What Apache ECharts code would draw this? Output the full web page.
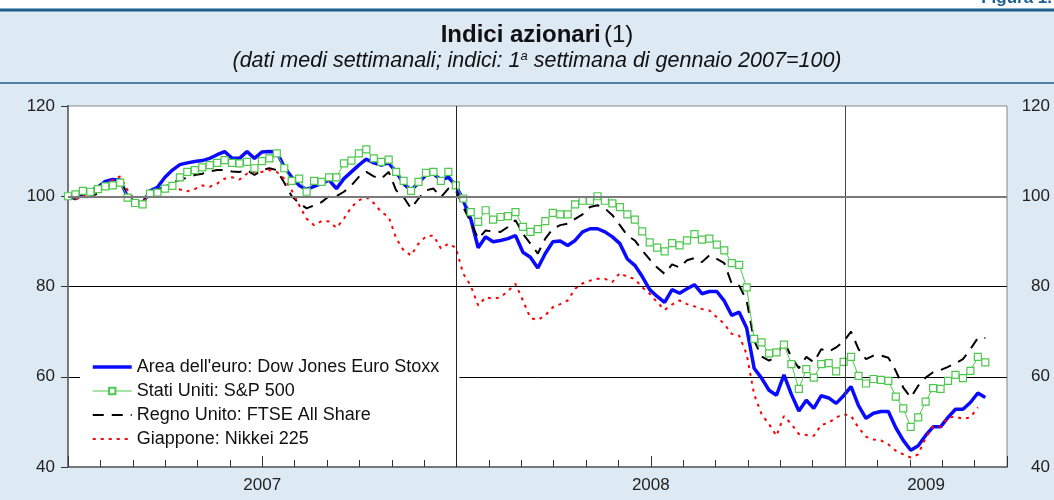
<!DOCTYPE html>
<html>
<head>
<meta charset="utf-8">
<title>Indici azionari</title>
<script src="https://cdn.jsdelivr.net/npm/echarts@6/dist/echarts.min.js"></script>
<style>
  html, body { margin: 0; padding: 0; background: #fff; }
  #chart { width: 1054px; height: 500px; }
</style>
</head>
<body>
<div id="chart"></div>
<script>
  // settimane dalla 1a di gennaio 2007; asse x in mesi
  const yearLabels = ['2007', '2008', '2009']
  const yearCenters = [6, 18, 26.5] // mesi
  const yTicks = [40, 60, 80, 100, 120]
  const seriesNames = [
    "Area dell'euro: Dow Jones Euro Stoxx",
    'Stati Uniti: S&P 500',
    'Regno Unito: FTSE All Share',
    'Giappone: Nikkei 225'
  ]

  const euro = [
    100, 99.5, 100.4, 101.2, 102, 103.3, 103.7, 103.6, 99.7, 98.7,
    98.4, 101.2, 102, 104.2, 105.8, 107, 107.4, 107.7, 107.9, 108.4,
    109.2, 109.9, 108.4, 108.4, 109.9, 108.4, 109.8, 109.9, 109.8, 106.5,
    104.2, 102.4, 101.5, 102.2, 102.8, 103.6, 101.7, 103.9, 105.4, 106.9,
    108.2, 107.4, 106.9, 107.4, 105.4, 102.8, 101.3, 103, 104.7, 105,
    103.6, 104.2, 102.4, 99.1, 95, 88.6, 91, 89.9, 90.2, 90.6,
    91.3, 87.6, 86.5, 84.1, 87.3, 89.9, 90.1, 89.1, 90.2, 92.1,
    92.8, 92.8, 92.1, 91, 89.5, 86.1, 84.7, 82.2, 79.3, 77.8,
    76.5, 79.3, 78.5, 79.5, 80.4, 78.4, 78.9, 78.9, 76.8, 73.6,
    74.3, 70.8, 61.9, 59.7, 57, 55.9, 60.4, 56.1, 52.4, 54.8,
    53, 55.8, 55.3, 54.1, 55.8, 57.8, 53.6, 50.8, 51.9, 52.3,
    52.3, 48.7, 45.9, 43.7, 44.7, 47, 48.9, 48.9, 51, 52.8,
    52.8, 54.3, 56.4, 55.4
  ]
  const usa = [
    100, 100.4, 101.2, 101, 101.6, 102.2, 102.4, 103, 99.7, 98.5,
    98.2, 100.6, 100.8, 101.7, 102.3, 104.2, 105.4, 105.8, 106.4, 106.9,
    107.4, 108, 107.4, 107.3, 107.6, 106.2, 107.8, 108.4, 109.5, 106.2,
    103.4, 103.9, 101, 103.4, 103.2, 104.2, 104.2, 107.3, 107.9, 109.5,
    110.4, 108.4, 107.6, 108.1, 105.4, 103.4, 101.2, 103.2, 105.2, 105.4,
    103.4, 105.4, 102.4, 99.5, 96.5, 94.3, 96.9, 94.8, 95.4, 95.6,
    96.5, 93.2, 92.1, 92.7, 94.5, 96.3, 96, 96, 98.2, 99,
    99, 100, 99, 98.4, 97.6, 96, 94.8, 92.2, 89.8, 88.6,
    87.8, 89.6, 89.1, 90.2, 91.6, 90.4, 90.6, 89.3, 88, 85.2,
    84.8, 79.8, 68.4, 67.6, 65.2, 65.4, 67.1, 62.8, 57.3, 61.7,
    59.8, 62.8, 63, 61.2, 63.3, 64.4, 60.2, 58.5, 59.5, 59.3,
    59.1, 55.6, 53, 48.9, 51, 54.5, 57.5, 57.3, 59.1, 60.4,
    59.7, 61.3, 64.4, 63.2
  ]
  const uk = [
    100, 99.5, 99.7, 99.9, 100.6, 102.4, 103, 103.4, 100, 98.7,
    98.4, 101, 101.5, 102.1, 103, 103.7, 104.1, 104.7, 105, 105.5,
    105.8, 105.8, 105.5, 105.4, 105.8, 104.7, 105.8, 106.2, 105.8, 103,
    100, 98.5, 97.3, 98, 98.7, 100, 100, 101, 102.4, 104.3,
    105.4, 104.4, 103.9, 105.4, 101.3, 99.8, 97.3, 99.5, 101.3, 101.7,
    99.8, 101.7, 101.3, 97.6, 94.3, 90.6, 92.4, 92.2, 92.1, 93.2,
    94.7, 91.7, 89.5, 87.3, 90.6, 92.8, 93.6, 93.9, 95, 96,
    97.6, 98, 97.3, 95.8, 93.6, 91.3, 90.2, 88, 86, 84.2,
    82.8, 84.9, 84.2, 85.8, 86.3, 85.4, 86.9, 86.1, 85.2, 80.6,
    80.2, 76.9, 68, 64.5, 63.6, 64.4, 68, 64.3, 61.9, 64.4,
    63.2, 66.1, 65.6, 66.5, 67.8, 70, 66.1, 63.9, 64.7, 64.7,
    64.2, 61.3, 57.6, 55.4, 58, 59.8, 61, 61.5, 62.2, 63,
    63.9, 66.1, 68.6, 68.6
  ]
  const japan = [
    100, 99.3, 100, 100.8, 101.9, 102.8, 103.6, 104.4, 101.3, 99.1,
    98.6, 100.6, 101.3, 101.3, 101.7, 101.5, 101.1, 101.6, 102.4, 102.1,
    102.8, 103.9, 104.2, 103.7, 105, 105.4, 105.4, 105.8, 105.4, 103.9,
    101.3, 98, 95, 93.6, 94.5, 94.4, 93, 95, 97.6, 99.1,
    99.8, 98.5, 96.5, 95.4, 90.7, 88, 86.9, 89.5, 91.1, 91.3,
    88.4, 89.5, 88.6, 82.8, 80.2, 75.8, 77.6, 77.3, 77.6, 79,
    80.6, 76.9, 73, 72.6, 73.6, 75.4, 76.1, 76.9, 79.5, 80.7,
    81.3, 81.7, 81.7, 81, 83, 82.1, 81.7, 79.8, 78.4, 76.5,
    74.8, 76, 76.9, 76.1, 75.6, 75, 74.7, 73.2, 71.7, 69.5,
    69.1, 65, 56.1, 51.7, 49.5, 46.9, 51.3, 49.5, 47.3, 47.1,
    46.9, 49.3, 49.8, 51, 51.7, 51.3, 48.7, 46.7, 46.1, 45.9,
    45, 43.6, 42.8, 42.1, 42.8, 46.5, 48.9, 48.9, 51, 51.1,
    50.7, 51, 53.2
  ]

  const FONT = '"Liberation Sans", Arial, Helvetica, sans-serif'
  const WEEK = 12 / 52.1 // mesi per osservazione settimanale

  function toPoints(arr) {
    return arr.map((v, i) => [i * WEEK, v])
  }

  const chart = echarts.init(document.getElementById('chart'), null, { renderer: 'canvas' })

  const xBase = {
    type: 'value',
    position: 'bottom',
    min: 0,
    max: 29,
    gridIndex: 0
  }

  chart.setOption({
    backgroundColor: '#dde9f3',
    animation: false,
    textStyle: { fontFamily: FONT },
    graphic: [
      { type: 'rect', silent: true, z: -1, shape: { x: 0, y: 0, width: 1054, height: 9 }, style: { fill: '#fff' } },
      { type: 'line', silent: true, shape: { x1: 0, y1: 10, x2: 1054, y2: 10 }, style: { stroke: '#1d5f8e', lineWidth: 3 } },
      { type: 'line', silent: true, shape: { x1: 0, y1: 83, x2: 1054, y2: 83 }, style: { stroke: '#4f7fa6', lineWidth: 2 } },
      {
        type: 'text', silent: true, x: 1052, y: 7,
        style: { text: 'Figura 1.', align: 'right', verticalAlign: 'bottom', fontFamily: FONT, fontWeight: 'bold', fontSize: 17, fill: '#1d5f8e' }
      },
      {
        type: 'text', silent: true, x: 537, y: 35,
        style: {
          text: '{b|Indici azionari} {n|(1)}',
          align: 'center', verticalAlign: 'middle',
          rich: {
            b: { fontFamily: FONT, fontWeight: 'bold', fontSize: 24, fill: '#111' },
            n: { fontFamily: FONT, fontSize: 24, fill: '#111' }
          }
        }
      },
      {
        type: 'text', silent: true, x: 537, y: 61,
        style: {
          text: '{i|(dati medi settimanali; indici: 1}{s|a}{i| settimana di gennaio 2007=100)}',
          align: 'center', verticalAlign: 'middle',
          rich: {
            i: { fontFamily: FONT, fontStyle: 'italic', fontSize: 21.5, lineHeight: 22, verticalAlign: 'bottom', fill: '#111' },
            s: { fontFamily: FONT, fontStyle: 'italic', fontSize: 13, lineHeight: 13, verticalAlign: 'top', fill: '#111' }
          }
        }
      }
    ],
    grid: {
      left: 68,
      right: 47,
      top: 106,
      bottom: 33,
      show: true,
      backgroundColor: '#fff',
      borderColor: '#888',
      borderWidth: 1
    },
    legend: {
      orient: 'vertical',
      left: 80,
      top: 350,
      padding: [8, 20, 8, 11],
      backgroundColor: '#fff',
      itemWidth: 39,
      itemHeight: 8,
      itemGap: 6,
      lineStyle: { width: 'inherit', type: 'inherit' },
      textStyle: { fontFamily: FONT, fontSize: 18, lineHeight: 18, color: '#111' },
      data: seriesNames
    },
    xAxis: [
      Object.assign({}, xBase, {
        interval: 1,
        axisLine: { show: true, lineStyle: { color: '#777', width: 2 } },
        axisTick: { show: true, inside: true, length: 7, lineStyle: { color: '#333' } },
        axisLabel: { show: false },
        splitLine: { show: false }
      }),
      Object.assign({}, xBase, {
        interval: 0.5,
        axisLine: { show: false },
        axisTick: { show: false },
        splitLine: { show: false },
        axisLabel: {
          show: true,
          margin: 10,
          fontSize: 17,
          color: '#222',
          fontFamily: FONT,
          formatter: function (v) {
            const k = yearCenters.indexOf(v)
            return k >= 0 ? yearLabels[k] : ''
          }
        }
      }),
      Object.assign({}, xBase, {
        interval: 6,
        axisLine: { show: false },
        axisTick: { show: true, inside: true, length: 11, lineStyle: { color: '#333' } },
        axisLabel: { show: false },
        splitLine: { show: false }
      })
    ],
    yAxis: [
      {
        type: 'value',
        min: yTicks[0],
        max: yTicks[yTicks.length - 1],
        interval: 20,
        axisLine: { show: true, lineStyle: { color: '#444', width: 2 } },
        axisTick: { show: true, length: 7, lineStyle: { color: '#333' } },
        axisLabel: { fontSize: 17, color: '#222', margin: 13, fontFamily: FONT },
        splitLine: { show: true, showMinLine: false, showMaxLine: false, lineStyle: { color: '#000', width: 1 } }
      },
      {
        type: 'value',
        position: 'right',
        min: yTicks[0],
        max: yTicks[yTicks.length - 1],
        interval: 20,
        axisLine: { show: true, lineStyle: { color: '#888', width: 1.5 } },
        axisTick: { show: false },
        axisLabel: { fontSize: 17, color: '#222', margin: 43, align: 'right', fontFamily: FONT },
        splitLine: { show: false }
      }
    ],
    series: [
      {
        // linee verticali di inizio anno e linea a 100
        type: 'line',
        name: 'riferimenti',
        data: [],
        z: 1,
        markLine: {
          silent: true,
          symbol: 'none',
          animation: false,
          label: { show: false },
          data: [
            { xAxis: 12, lineStyle: { color: '#222', width: 1, type: 'solid' } },
            { xAxis: 24, lineStyle: { color: '#444', width: 1, type: 'solid' } },
            { yAxis: 100, lineStyle: { color: '#7a7a7a', width: 2, type: 'solid' } }
          ]
        }
      },
      {
        type: 'line',
        name: seriesNames[0],
        data: toPoints(euro),
        symbol: 'circle',
        showSymbol: false,
        lineStyle: { color: '#0a0aff', width: 3.5 },
        itemStyle: { color: '#0a0aff', opacity: 0 },
        z: 3
      },
      {
        type: 'line',
        name: seriesNames[1],
        data: toPoints(usa),
        symbol: 'rect',
        symbolSize: 7,
        showSymbol: true,
        lineStyle: { color: '#4cc84c', width: 1 },
        itemStyle: { color: '#fff', borderColor: '#4cc84c', borderWidth: 1.2 },
        z: 4
      },
      {
        type: 'line',
        name: seriesNames[2],
        data: toPoints(uk),
        symbol: 'circle',
        showSymbol: false,
        lineStyle: { color: '#000', width: 2, type: [11, 8] },
        itemStyle: { color: '#000', opacity: 0 },
        z: 3
      },
      {
        type: 'line',
        name: seriesNames[3],
        data: toPoints(japan),
        symbol: 'circle',
        showSymbol: false,
        lineStyle: { color: '#ff0000', width: 2, type: [3, 5] },
        itemStyle: { color: '#ff0000', opacity: 0 },
        z: 3
      }
    ]
  })
</script>
</body>
</html>
